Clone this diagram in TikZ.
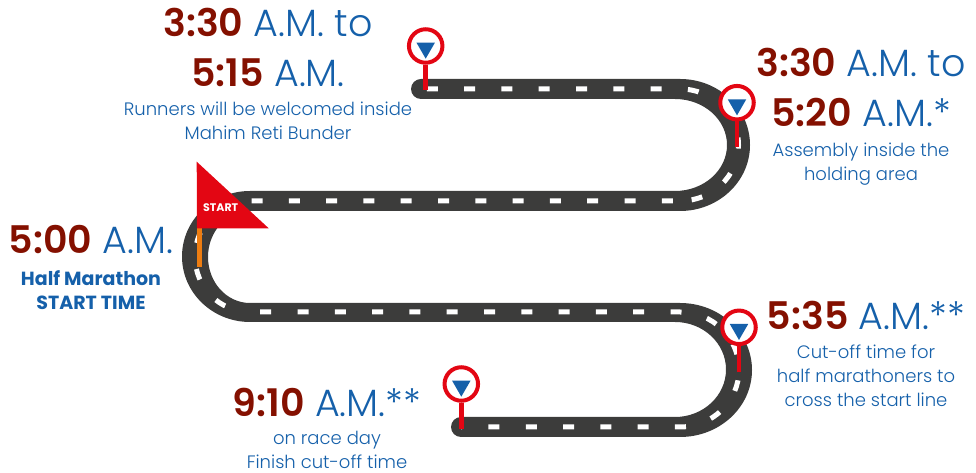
\documentclass[tikz,border=0pt]{standalone}
\usepackage{fontspec}
\setmainfont{Poppins}
\newfontfamily\lightfont{Poppins Light}
\usetikzlibrary{arrows.meta,positioning,shapes.geometric}
\definecolor{roadGray}{HTML}{3C3C3B}
\definecolor{pinRed}{HTML}{E30613}
\definecolor{pinBlue}{HTML}{1560AA}
\definecolor{hourRed}{HTML}{841000}
\definecolor{poleOrange}{HTML}{EE7D11}
\newcommand{\hr}[1]{{\bfseries\color{hourRed}#1}}

\begin{document}
\begin{tikzpicture}[
  x=1pt, y=1pt,
  node distance=3pt,
  timelab/.style={font=\lightfont\fontsize{38}{50}\selectfont, text=pinBlue, align=center, inner sep=0pt},
  caplab/.style={font=\lightfont\fontsize{18}{24}\selectfont, text=pinBlue, align=center, inner sep=0pt},
  boldlab/.style={font=\bfseries\fontsize{19}{24}\selectfont, text=pinBlue, align=center, inner sep=0pt},
  ring/.style={circle, draw=pinRed, fill=white, line width=4pt, minimum size=33.5pt, inner sep=0pt},
  pintri/.style={isosceles triangle, isosceles triangle apex angle=60, shape border rotate=-90, fill=pinBlue, minimum size=16pt, inner sep=0pt},
  stem/.style={draw=pinRed, line width=4.5pt},
  roadline/.style={draw=white, line width=5pt, dash pattern=on 11pt off 26.3pt}
]
\useasboundingbox (0,0) rectangle (976,473);
% road surface, wider on the bends
\fill[roadGray] (421,394) arc[start angle=90, end angle=270, radius=10] -- (675,374)
  arc[start angle=90, end angle=-90, x radius=52, y radius=46] -- (250,282)
  arc[start angle=90, end angle=270, x radius=68, y radius=65.5] -- (675,151)
  arc[start angle=90, end angle=-90, x radius=51, y radius=47.5] -- (461,56)
  arc[start angle=90, end angle=270, radius=10] -- (680,36)
  arc[start angle=-90, end angle=90, x radius=72, y radius=67] -- (250,170)
  arc[start angle=270, end angle=90, x radius=42, y radius=46] -- (680,262)
  arc[start angle=-90, end angle=90, x radius=70, y radius=66] -- cycle;
% lane markings
\draw[roadline, dash phase=31.5pt] (421,384) -- (680,384) arc[start angle=90, end angle=-90, x radius=58.5, y radius=56];
\draw[roadline, dash phase=30.1pt] (680,272) -- (250,272) arc[start angle=90, end angle=270, x radius=55, y radius=55.5];
\draw[roadline, dash phase=27.1pt] (250,161) -- (680,161) arc[start angle=90, end angle=-90, x radius=59, y radius=57.5] -- (461,46);
% flag
\draw[poleOrange, line width=4.7pt] (199.3,245) -- (199.3,206.3);
\fill[pinRed] (196.7,311.3) -- (268.7,244.7) -- (197,244.7) -- cycle;
\node[font=\bfseries\fontsize{11}{12}\selectfont, text=white, inner sep=0pt] (flagtext) at (220.7,265.7) {START};
% pins
\node[ring] (pinA) at (425.7,427) {};
\node[ring] (pinB) at (737,370.3) {};
\node[ring] (pinC) at (739,145.7) {};
\node[ring] (pinD) at (461.3,89) {};
\foreach \p in {pinA,pinB,pinC,pinD}
  \node[pintri] (\p tri) at ([yshift=-2pt]\p) {};
\coordinate (footA) at (425.7,383);
\coordinate (footB) at (737,326);
\coordinate (footC) at (739,101.3);
\coordinate (footD) at (461.3,44.3);
\draw[stem] (pinA.south) -- (footA);
\draw[stem] (pinB.south) -- (footB);
\draw[stem] (pinC.south) -- (footC);
\draw[stem] (pinD.south) -- (footD);
% times and captions
\node[timelab] (welcome) at (268,425.5) {\hr{3:30} A.M. to\\\hr{5:15} A.M.};
\node[caplab, below=15pt of welcome] (welcomecap) {Runners will be welcomed inside\\Mahim Reti Bunder};
\node[timelab] (assembly) at (861,385.5) {\hr{3:30} A.M. to\\\hr{5:20} A.M.*};
\node[caplab, below=15.5pt of assembly] (assemblycap) {Assembly inside the\\holding area};
\node[timelab] (starttime) at (91,233) {\hr{5:00} A.M.};
\node[boldlab, below=16pt of starttime] (startcap) {Half Marathon\\START TIME};
\node[timelab] (cutoff) at (866,158) {\hr{5:35} A.M.**};
\node[caplab, below=15.5pt of cutoff] (cutoffcap) {Cut-off time for\\half marathoners to\\cross the start line};
\node[timelab] (finish) at (327,71) {\hr{9:10} A.M.**};
\node[caplab, below=14.5pt of finish] (finishcap) {on race day\\Finish cut-off time};
\end{tikzpicture}
\end{document}
